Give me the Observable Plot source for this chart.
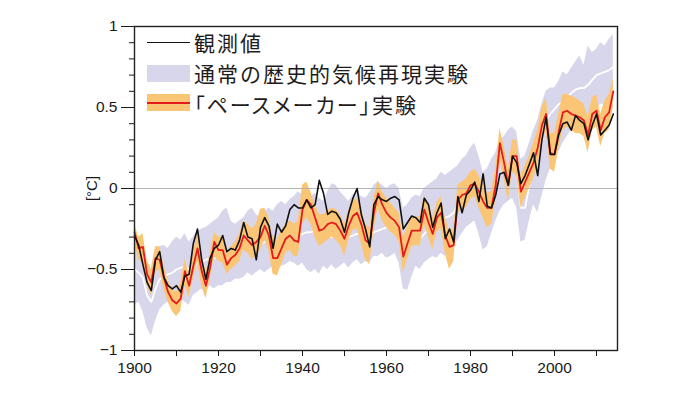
<!DOCTYPE html>
<html>
<head>
<meta charset="utf-8">
<script src="https://cdn.jsdelivr.net/npm/d3@7"></script>
<script src="https://cdn.jsdelivr.net/npm/@observablehq/plot@0.6"></script>
<style>
  html, body { margin: 0; padding: 0; background: #fff; }
  #wrap { position: relative; width: 700px; height: 394px; }
  .leg { position: absolute; font-family: "Noto Sans CJK JP", "Noto Sans", sans-serif; font-size: 21px; line-height: 21px; letter-spacing: 2px; font-weight: 400; color: #1f1c1d; white-space: nowrap; }
</style>
</head>
<body>
<div id="wrap"></div>
<script>
const startYear = 1900;
// observed (black)
const observed = [-0.29,-0.35,-0.47,-0.58,-0.63,-0.44,-0.39,-0.55,-0.60,-0.62,
 -0.60,-0.64,-0.54,-0.53,-0.34,-0.25,-0.44,-0.56,-0.43,-0.37,
 -0.35,-0.29,-0.39,-0.37,-0.38,-0.32,-0.21,-0.30,-0.31,-0.44,
 -0.24,-0.18,-0.23,-0.37,-0.22,-0.27,-0.23,-0.13,-0.10,-0.12,
 -0.12,-0.07,-0.12,-0.10,0.05,-0.03,-0.16,-0.14,-0.15,-0.19,
 -0.27,-0.15,-0.06,0.00,-0.16,-0.25,-0.36,-0.10,-0.05,-0.07,
 -0.08,-0.06,-0.05,-0.07,-0.25,-0.21,-0.17,-0.18,-0.21,-0.06,
 -0.10,-0.24,-0.15,-0.09,-0.31,-0.25,-0.33,-0.05,-0.15,-0.04,
 -0.01,0.04,-0.08,0.09,-0.11,-0.12,-0.04,0.09,0.10,0.02,
 0.20,0.16,0.03,0.08,0.15,0.22,0.08,0.30,0.44,0.21,
 0.21,0.33,0.40,0.41,0.36,0.45,0.42,0.40,0.30,0.39,
 0.46,0.33,0.36,0.39,0.46];
// pacemaker experiment mean (red) and spread (orange)
const paceMean = [-0.27,-0.37,-0.36,-0.53,-0.58,-0.43,-0.44,-0.55,-0.64,-0.69,
 -0.71,-0.68,-0.51,-0.60,-0.48,-0.37,-0.51,-0.60,-0.49,-0.33,
 -0.38,-0.38,-0.47,-0.43,-0.41,-0.37,-0.29,-0.32,-0.35,-0.33,
 -0.30,-0.23,-0.29,-0.43,-0.43,-0.37,-0.31,-0.29,-0.32,-0.33,
 -0.13,-0.07,-0.10,-0.18,-0.26,-0.25,-0.22,-0.21,-0.22,-0.26,
 -0.31,-0.23,-0.17,-0.15,-0.22,-0.32,-0.34,-0.15,-0.03,-0.10,
 -0.15,-0.18,-0.20,-0.24,-0.42,-0.34,-0.26,-0.26,-0.26,-0.13,
 -0.21,-0.28,-0.18,-0.15,-0.29,-0.36,-0.35,-0.07,-0.04,-0.03,
 0.02,0.03,-0.02,-0.08,-0.12,-0.12,0.02,0.28,0.16,0.02,
 0.20,0.20,-0.02,0.04,0.10,0.16,0.25,0.39,0.46,0.22,
 0.21,0.35,0.47,0.48,0.46,0.45,0.44,0.42,0.33,0.46,
 0.48,0.36,0.44,0.47,0.60];
const paceHigh = [-0.22,-0.30,-0.28,-0.44,-0.50,-0.36,-0.36,-0.47,-0.57,-0.62,
 -0.64,-0.58,-0.44,-0.52,-0.40,-0.28,-0.42,-0.52,-0.40,-0.27,
 -0.30,-0.30,-0.40,-0.36,-0.33,-0.28,-0.20,-0.22,-0.25,-0.22,
 -0.13,-0.12,-0.18,-0.30,-0.32,-0.26,-0.22,-0.20,-0.22,-0.20,
 0.02,0.04,-0.02,-0.10,-0.16,-0.16,-0.14,-0.12,-0.13,-0.16,
 -0.22,-0.14,-0.08,-0.06,-0.12,-0.22,-0.24,-0.06,0.05,-0.02,
 -0.06,-0.09,-0.12,-0.15,-0.30,-0.24,-0.17,-0.18,-0.17,-0.04,
 -0.11,-0.18,-0.09,-0.05,-0.18,-0.26,-0.25,0.02,0.04,0.06,
 0.10,0.12,0.08,0.02,-0.03,-0.02,0.12,0.37,0.26,0.12,
 0.30,0.30,0.08,0.14,0.20,0.28,0.36,0.50,0.56,0.34,
 0.34,0.46,0.58,0.58,0.57,0.56,0.54,0.52,0.44,0.56,
 0.58,0.46,0.54,0.58,0.68];
const paceLow = [-0.34,-0.44,-0.46,-0.60,-0.66,-0.52,-0.50,-0.62,-0.70,-0.76,
 -0.79,-0.76,-0.60,-0.67,-0.56,-0.45,-0.60,-0.68,-0.56,-0.42,
 -0.45,-0.46,-0.53,-0.50,-0.48,-0.45,-0.38,-0.40,-0.44,-0.42,
 -0.38,-0.32,-0.38,-0.53,-0.54,-0.47,-0.40,-0.38,-0.42,-0.42,
 -0.22,-0.18,-0.22,-0.30,-0.36,-0.34,-0.32,-0.30,-0.32,-0.35,
 -0.42,-0.32,-0.26,-0.25,-0.34,-0.44,-0.47,-0.26,-0.12,-0.20,
 -0.24,-0.27,-0.29,-0.33,-0.52,-0.44,-0.36,-0.35,-0.36,-0.22,
 -0.30,-0.38,-0.27,-0.25,-0.40,-0.50,-0.45,-0.16,-0.12,-0.12,
 -0.07,-0.05,-0.12,-0.18,-0.24,-0.22,-0.08,0.18,0.06,-0.08,
 0.10,0.08,-0.12,-0.06,0.00,0.06,0.14,0.28,0.36,0.12,
 0.10,0.24,0.36,0.38,0.36,0.34,0.34,0.32,0.22,0.36,
 0.38,0.26,0.34,0.36,0.50];
// historical experiment mean (white) and spread (lavender)
const histMean = [-0.50,-0.52,-0.55,-0.66,-0.70,-0.62,-0.56,-0.54,-0.53,-0.52,
 -0.50,-0.49,-0.48,-0.50,-0.48,-0.46,-0.45,-0.44,-0.43,-0.43,
 -0.42,-0.41,-0.41,-0.40,-0.39,-0.38,-0.37,-0.36,-0.36,-0.35,
 -0.34,-0.33,-0.33,-0.32,-0.32,-0.31,-0.30,-0.30,-0.29,-0.29,
 -0.28,-0.27,-0.27,-0.26,-0.27,-0.28,-0.29,-0.30,-0.30,-0.30,
 -0.30,-0.30,-0.29,-0.28,-0.28,-0.28,-0.28,-0.27,-0.26,-0.25,
 -0.24,-0.23,-0.23,-0.26,-0.38,-0.36,-0.32,-0.30,-0.31,-0.28,
 -0.25,-0.23,-0.21,-0.18,-0.18,-0.17,-0.15,-0.10,-0.06,-0.03,
 0.00,0.02,-0.05,-0.16,-0.12,-0.04,0.02,0.08,0.12,0.14,
 0.15,0.10,-0.12,-0.12,0.02,0.15,0.25,0.35,0.42,0.46,
 0.49,0.52,0.54,0.56,0.59,0.61,0.62,0.62,0.64,0.67,
 0.70,0.71,0.72,0.73,0.75];
const histHigh = [-0.32,-0.30,-0.35,-0.45,-0.50,-0.40,-0.36,-0.35,-0.37,-0.33,
 -0.30,-0.32,-0.28,-0.33,-0.30,-0.27,-0.25,-0.24,-0.22,-0.20,
 -0.18,-0.14,-0.12,-0.20,-0.22,-0.20,-0.18,-0.14,-0.12,-0.16,
 -0.18,-0.15,-0.12,-0.14,-0.10,-0.08,-0.10,-0.07,-0.05,-0.02,
 -0.04,-0.02,-0.05,-0.03,-0.06,-0.08,-0.02,0.03,0.02,-0.02,
 -0.05,-0.08,-0.04,-0.02,-0.05,-0.06,-0.03,0.02,0.04,0.02,
 0.00,0.02,0.03,0.00,-0.12,-0.10,-0.06,-0.04,-0.05,0.00,
 0.02,0.04,0.06,0.10,0.08,0.10,0.12,0.14,0.18,0.20,
 0.25,0.28,0.20,0.10,0.12,0.18,0.22,0.30,0.32,0.36,
 0.38,0.35,0.18,0.20,0.28,0.36,0.42,0.52,0.60,0.62,
 0.62,0.66,0.72,0.70,0.74,0.78,0.82,0.76,0.88,0.84,
 0.86,0.90,0.88,0.92,0.95];
const histLow = [-0.72,-0.70,-0.76,-0.86,-0.91,-0.82,-0.75,-0.72,-0.70,-0.74,
 -0.70,-0.68,-0.70,-0.72,-0.66,-0.64,-0.62,-0.64,-0.60,-0.62,
 -0.60,-0.60,-0.58,-0.58,-0.56,-0.56,-0.55,-0.52,-0.54,-0.52,
 -0.50,-0.52,-0.50,-0.48,-0.50,-0.48,-0.47,-0.45,-0.46,-0.48,
 -0.46,-0.50,-0.52,-0.50,-0.53,-0.48,-0.50,-0.47,-0.50,-0.48,
 -0.46,-0.49,-0.46,-0.44,-0.47,-0.45,-0.46,-0.42,-0.42,-0.40,
 -0.43,-0.42,-0.40,-0.46,-0.62,-0.63,-0.55,-0.48,-0.50,-0.46,
 -0.44,-0.42,-0.43,-0.40,-0.42,-0.38,-0.36,-0.32,-0.28,-0.24,
 -0.22,-0.20,-0.28,-0.38,-0.36,-0.28,-0.20,-0.14,-0.10,-0.08,
 -0.06,-0.12,-0.33,-0.32,-0.20,-0.10,-0.15,-0.05,0.05,0.12,
 0.18,0.22,0.28,0.32,0.36,0.40,0.42,0.42,0.45,0.48,
 0.50,0.52,0.52,0.54,0.56];

const xTicks = [1900,1910,1920,1930,1940,1950,1960,1970,1980,1990,2000,2010];
const xLabels = [1900,1920,1940,1960,1980,2000];
const yMajor = [-1,-0.5,0,0.5,1];
const yMinor = [-0.9,-0.8,-0.7,-0.6,-0.4,-0.3,-0.2,-0.1,0.1,0.2,0.3,0.4,0.6,0.7,0.8,0.9];
const yLabel = "[°C]";
const legendItems = ["観測値", "通常の歴史的気候再現実験", "「ペースメーカー」実験"];

const rows = observed.map((v, i) => ({
  year: startYear + i,
  obs: v,
  pm: paceMean[i], ph: paceHigh[i], pl: paceLow[i],
  hm: histMean[i], hh: histHigh[i], hl: histLow[i]
}));

const fmt = d => d === 0 ? "0" : (d < 0 ? "\u2212" : "") + String(Math.abs(d));

const chart = Plot.plot({
  width: 700, height: 394,
  marginLeft: 134, marginRight: 83, marginTop: 26, marginBottom: 44,
  x: {domain: [1900, 2015]},
  y: {domain: [-1, 1]},
  style: {fontFamily: "'Liberation Sans', Arial, sans-serif", fontSize: "15.5px", color: "#1a1a1a", background: "#fff"},
  marks: [
    Plot.areaY(rows, {x: "year", y1: "hl", y2: "hh", fill: "#d8d6eb"}),
    Plot.lineY(rows, {x: "year", y: "hm", stroke: "#fff", strokeWidth: 1.8}),
    Plot.areaY(rows, {x: "year", y1: "pl", y2: "ph", fill: "#fac676"}),
    Plot.ruleY([0], {stroke: "#b5b5b5", strokeWidth: 1.2}),
    Plot.lineY(rows, {x: "year", y: "pm", stroke: "#e41a1c", strokeWidth: 1.8}),
    Plot.lineY(rows, {x: "year", y: "obs", stroke: "#111", strokeWidth: 1.6}),
    Plot.frame({stroke: "#222", strokeWidth: 1.4}),
    Plot.axisX({ticks: xTicks, tickSize: 6, tickPadding: 5, label: null,
      tickFormat: d => xLabels.includes(d) ? String(d) : ""}),
    Plot.axisY({ticks: yMajor, tickSize: 13, tickPadding: 4, label: null, tickFormat: fmt}),
    Plot.axisY({ticks: yMinor, tickSize: 5, label: null, tickFormat: () => ""}),
    Plot.text([yLabel], {text: d => d, frameAnchor: "left", dx: -42, rotate: -90, textAnchor: "middle", fontSize: 15})
  ]
});

const wrap = document.getElementById("wrap");
wrap.appendChild(chart);

function add(css) { const el = document.createElement("div"); Object.assign(el.style, css); wrap.appendChild(el); return el; }
// legend swatches
add({position: "absolute", left: "147px", top: "41.5px", width: "43px", height: "1.6px", background: "#111"});
add({position: "absolute", left: "147px", top: "65px", width: "43px", height: "17px", background: "#d8d6eb"});
add({position: "absolute", left: "147px", top: "94px", width: "43px", height: "17px", background: "#fac676"});
add({position: "absolute", left: "147px", top: "101.5px", width: "43px", height: "2.2px", background: "#e41a1c"});
const tops = [32, 62.5, 93.5];
legendItems.forEach((t, i) => {
  const d = document.createElement("div");
  d.className = "leg";
  d.textContent = t;
  d.style.left = "194px";
  d.style.top = tops[i] + "px";
  if (i === 2) d.style.fontFeatureSettings = '"palt" 1';
  wrap.appendChild(d);
});
</script>
</body>
</html>
